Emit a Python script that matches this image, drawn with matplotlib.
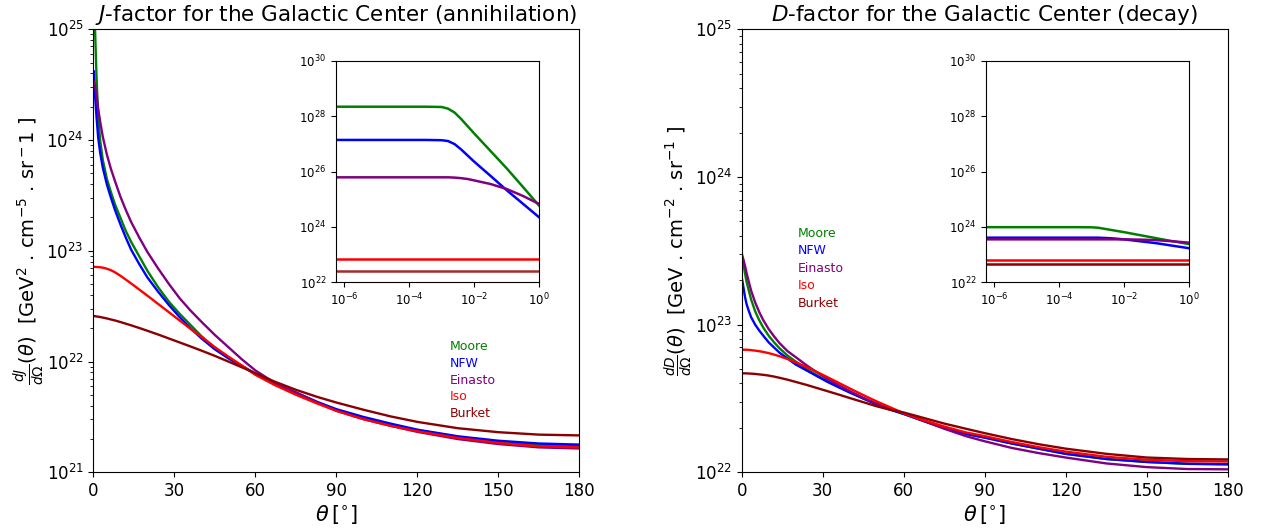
import numpy as np
import matplotlib.pyplot as plt
from matplotlib.ticker import NullLocator

profiles = ['Moore', 'NFW', 'Einasto', 'Iso', 'Burket']
colors = ['green', 'blue', 'purple', 'red', 'darkred']

# angular distance from the Galactic Center [deg]
theta = [0.2, 0.5, 1.2, 1.8, 2.5, 3.5, 5, 6.5, 8, 10, 12, 14, 17, 20, 24, 28, 32, 36, 40, 45,
         50, 55, 60, 67, 75, 83, 90, 100, 110, 120, 135, 150, 165, 180]

# log10 dJ/dOmega [GeV^2 cm^-5 sr^-1]
logJ_moore = [25.4, 25.1, 24.55, 24.22, 24.0, 23.82, 23.65, 23.53, 23.42, 23.30, 23.18, 23.08, 22.95,
              22.82, 22.67, 22.54, 22.43, 22.33, 22.23, 22.12, 22.03, 21.96, 21.89, 21.80, 21.72, 21.63,
              21.56, 21.49, 21.43, 21.38, 21.32, 21.275, 21.25, 21.235]
logJ_nfw = [24.62, 24.45, 24.20, 24.02, 23.89, 23.75, 23.60, 23.48, 23.37, 23.24, 23.12, 23.01, 22.88,
            22.76, 22.63, 22.51, 22.40, 22.30, 22.21, 22.11, 22.03, 21.96, 21.89, 21.80, 21.72, 21.635,
            21.57, 21.50, 21.44, 21.385, 21.325, 21.285, 21.26, 21.25]
logJ_einasto = [24.53, 24.50, 24.40, 24.28, 24.17, 24.03, 23.87, 23.74, 23.63, 23.49, 23.37, 23.26, 23.12,
                22.99, 22.84, 22.70, 22.57, 22.46, 22.36, 22.24, 22.13, 22.02, 21.92, 21.81, 21.72, 21.63,
                21.555, 21.48, 21.42, 21.365, 21.30, 21.255, 21.225, 21.215]
logJ_iso = [22.855, 22.855, 22.854, 22.853, 22.851, 22.848, 22.838, 22.825, 22.806, 22.775, 22.74, 22.705,
            22.65, 22.595, 22.52, 22.445, 22.37, 22.295, 22.225, 22.13, 22.045, 21.965, 21.88, 21.79, 21.70,
            21.62, 21.555, 21.48, 21.42, 21.37, 21.31, 21.265, 21.235, 21.225]
logJ_burket = [22.41, 22.41, 22.407, 22.405, 22.402, 22.397, 22.389, 22.38, 22.371, 22.357, 22.342, 22.327,
               22.303, 22.278, 22.244, 22.208, 22.172, 22.136, 22.099, 22.051, 22.0, 21.948, 21.895, 21.82,
               21.745, 21.68, 21.63, 21.565, 21.505, 21.455, 21.398, 21.362, 21.34, 21.333]

# log10 dD/dOmega [GeV cm^-2 sr^-1]
logD_moore = [23.47, 23.43, 23.35, 23.29, 23.24, 23.17, 23.09, 23.03, 22.98, 22.925, 22.88, 22.84, 22.79,
              22.75, 22.70, 22.655, 22.615, 22.58, 22.545, 22.50, 22.46, 22.425, 22.395, 22.35, 22.30, 22.26,
              22.235, 22.195, 22.16, 22.125, 22.09, 22.07, 22.057, 22.053]
logD_nfw = [23.30, 23.27, 23.19, 23.14, 23.10, 23.05, 23.00, 22.96, 22.925, 22.88, 22.845, 22.81, 22.77,
            22.73, 22.69, 22.65, 22.61, 22.575, 22.54, 22.50, 22.46, 22.425, 22.395, 22.35, 22.30, 22.26,
            22.235, 22.195, 22.16, 22.125, 22.09, 22.07, 22.058, 22.055]
logD_einasto = [23.46, 23.45, 23.40, 23.35, 23.30, 23.23, 23.15, 23.085, 23.03, 22.97, 22.92, 22.875, 22.82,
                22.78, 22.725, 22.675, 22.63, 22.59, 22.55, 22.505, 22.465, 22.43, 22.40, 22.35, 22.295,
                22.245, 22.21, 22.165, 22.13, 22.10, 22.06, 22.035, 22.022, 22.02]
logD_iso = [22.83, 22.83, 22.83, 22.83, 22.829, 22.827, 22.824, 22.82, 22.815, 22.807, 22.797, 22.786,
            22.767, 22.745, 22.713, 22.678, 22.642, 22.605, 22.568, 22.523, 22.48, 22.44, 22.40, 22.355,
            22.31, 22.27, 22.245, 22.205, 22.17, 22.14, 22.105, 22.085, 22.075, 22.073]
logD_burket = [22.67, 22.67, 22.67, 22.67, 22.669, 22.668, 22.666, 22.663, 22.66, 22.655, 22.648, 22.64,
               22.627, 22.612, 22.592, 22.57, 22.548, 22.526, 22.503, 22.475, 22.447, 22.423, 22.405, 22.37,
               22.33, 22.295, 22.265, 22.225, 22.19, 22.16, 22.125, 22.10, 22.09, 22.087]

# zoom on the very center: log10 of theta [deg]
log_theta_in = [-6.25, -5, -4, -3.5, -3, -2.8, -2.6, -2.4, -2.2, -2, -1.5, -1, -0.5, 0]

logJ_in_moore = [28.34, 28.34, 28.34, 28.34, 28.33, 28.27, 28.13, 27.90, 27.64, 27.38, 26.75, 26.12, 25.45, 24.77]
logJ_in_nfw = [27.14, 27.14, 27.14, 27.14, 27.13, 27.10, 26.99, 26.80, 26.58, 26.36, 25.85, 25.33, 24.84, 24.35]
logJ_in_einasto = [25.79, 25.79, 25.79, 25.79, 25.79, 25.79, 25.78, 25.76, 25.73, 25.68, 25.55, 25.37, 25.12, 24.83]
logJ_in_iso = [22.84] * 14
logJ_in_burket = [22.42] * 14

logD_in_moore = [23.99, 23.99, 23.99, 23.99, 23.985, 23.97, 23.93, 23.89, 23.85, 23.81, 23.70, 23.59, 23.48, 23.38]
logD_in_nfw = [23.61, 23.61, 23.61, 23.61, 23.61, 23.61, 23.60, 23.59, 23.57, 23.55, 23.48, 23.41, 23.32, 23.23]
logD_in_einasto = [23.55, 23.55, 23.55, 23.55, 23.55, 23.55, 23.55, 23.55, 23.55, 23.55, 23.54, 23.52, 23.48, 23.43]
logD_in_iso = [22.81] * 14
logD_in_burket = [22.66] * 14

J_main = [logJ_moore, logJ_nfw, logJ_einasto, logJ_iso, logJ_burket]
D_main = [logD_moore, logD_nfw, logD_einasto, logD_iso, logD_burket]
J_zoom = [logJ_in_moore, logJ_in_nfw, logJ_in_einasto, logJ_in_iso, logJ_in_burket]
D_zoom = [logD_in_moore, logD_in_nfw, logD_in_einasto, logD_in_iso, logD_in_burket]

fig = plt.figure(figsize=(12.77, 5.30), dpi=100)

panels = [
    dict(data=J_main, zoom=J_zoom, ylim=(1e21, 1e25), left=0.0731, inset_left=0.2631,
         title=r'$J$-factor for the Galactic Center (annihilation)',
         ylabel=r'$\frac{dJ}{d\Omega}(\theta)$  [GeV$^2$ . cm$^{-5}$ . sr$^-1$ ]',
         leg_xy=(0.7325, 0.2835), leg_dy=0.0377, zoom_colors=colors[:4] + ['brown']),
    dict(data=D_main, zoom=D_zoom, ylim=(1e22, 1e25), left=0.5808, inset_left=0.7721,
         title=r'$D$-factor for the Galactic Center (decay)',
         ylabel=r'$\frac{dD}{d\Omega}(\theta)$  [GeV . cm$^{-2}$ . sr$^{-1}$ ]',
         leg_xy=(0.115, 0.5395), leg_dy=0.0395, zoom_colors=colors),
]

th = np.array(theta)
th_in = 10.0 ** np.array(log_theta_in)

for p in panels:
    ax = fig.add_axes([p['left'], 0.1089, 0.3806, 0.8358])
    for vals, c in zip(p['data'], colors):
        ax.plot(th, 10.0 ** np.array(vals), color=c, lw=1.7)
    ax.set_yscale('log')
    ax.set_xlim(0, 180)
    ax.set_ylim(*p['ylim'])
    ax.set_xticks([0, 30, 60, 90, 120, 150, 180])
    ax.tick_params(labelsize=12)
    ax.set_title(p['title'], fontsize=15.5)
    ax.set_xlabel(r'$\theta\,[^{\circ}]$', fontsize=15, labelpad=2)
    ax.set_ylabel(p['ylabel'], fontsize=14, labelpad=0)

    x0, y0 = p['leg_xy']
    for i, (name, c) in enumerate(zip(profiles, colors)):
        ax.text(x0, y0 - i * p['leg_dy'], name, color=c, fontsize=9,
                va='center', ha='left', transform=ax.transAxes)

    axin = fig.add_axes([p['inset_left'], 0.4674, 0.159, 0.418])
    for vals, c in zip(p['zoom'], p['zoom_colors']):
        axin.plot(th_in, 10.0 ** np.array(vals), color=c, lw=1.8)
    axin.set_xscale('log')
    axin.set_yscale('log')
    axin.set_xlim(10 ** -6.25, 1)
    axin.set_ylim(1e22, 1e30)
    axin.set_xticks([1e-6, 1e-4, 1e-2, 1])
    axin.set_yticks([1e22, 1e24, 1e26, 1e28, 1e30])
    axin.xaxis.set_minor_locator(NullLocator())
    axin.yaxis.set_minor_locator(NullLocator())
    axin.tick_params(labelsize=8.5)

fig.savefig('out.png', dpi=100)
